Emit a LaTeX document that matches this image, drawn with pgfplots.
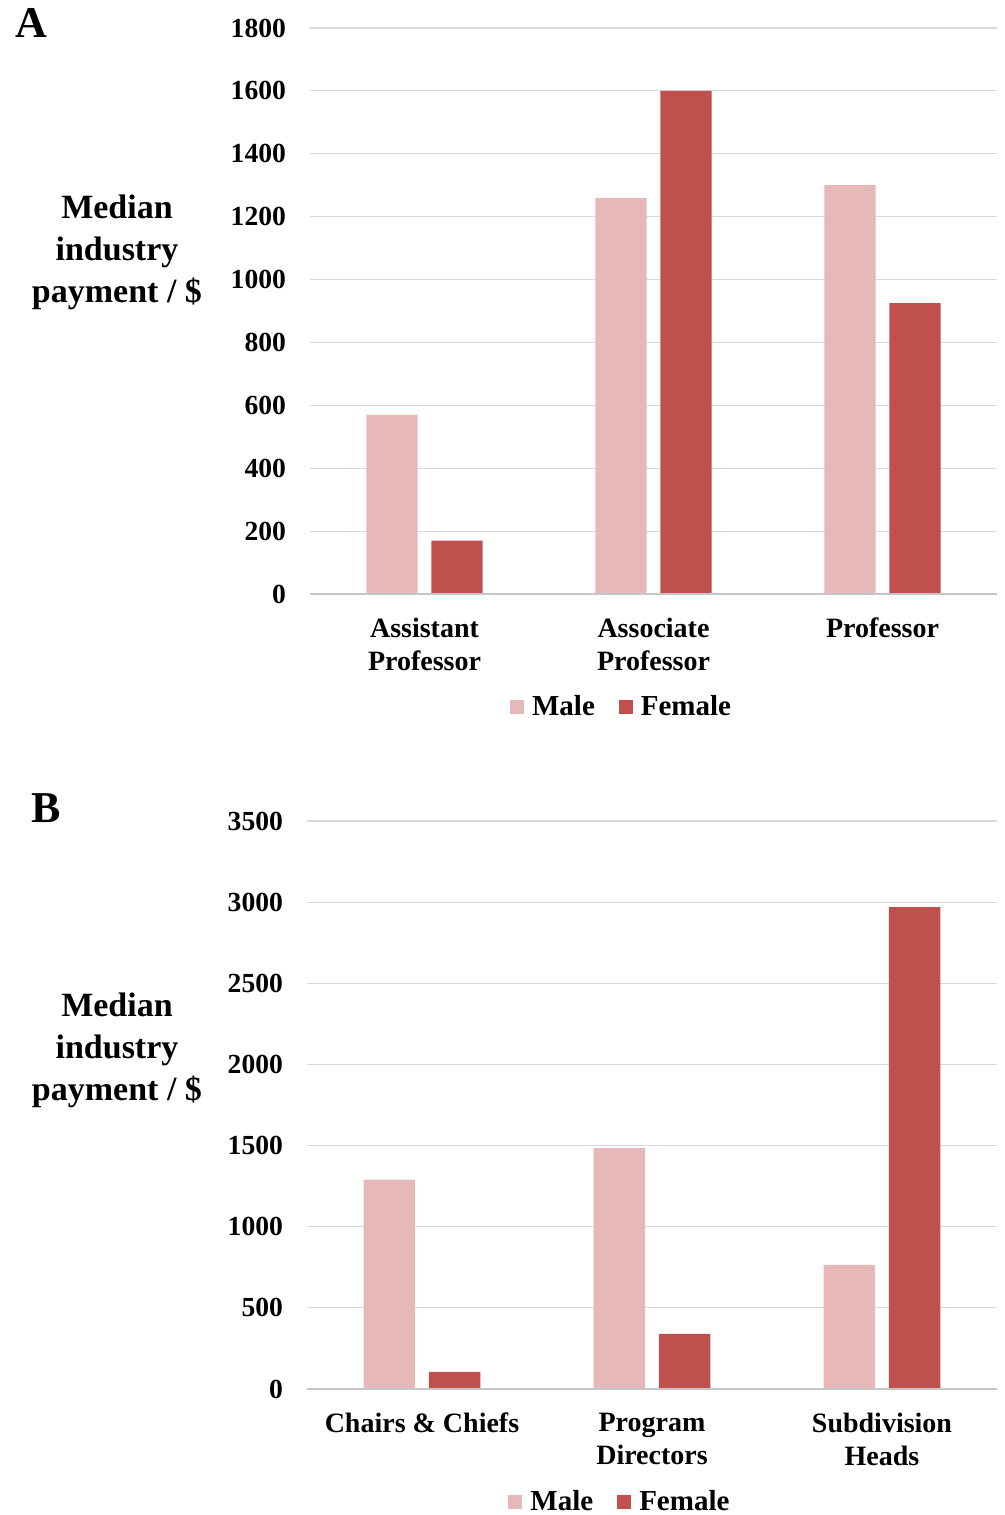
\documentclass[border=0pt]{standalone}
\usepackage{fontspec}
\setmainfont{Liberation Serif}
\usepackage{pgfplots}
\pgfplotsset{compat=1.18}
\definecolor{male}{HTML}{E6B9B8}
\definecolor{female}{HTML}{C0504D}
\definecolor{gridc}{HTML}{D9D9D9}

\pgfplotsset{
  sq legend/.style={legend image code/.code={\fill[##1] (0pt,-3.5pt) rectangle (7pt,3.5pt); \path (0pt,0pt) -- (9pt,0pt);}},
  mystyle/.style={
    scale only axis, xmin=-0.5, xmax=2.5, ymin=0,
    axis line style={draw=none},
    major tick length=0pt,
    ymajorgrids, grid style={color=gridc, line width=0.6pt},
    xtick={0,1,2},
    /pgf/number format/assume math mode=true,
    /pgf/number format/1000 sep={},
    yticklabel style={font=\fontsize{13.8}{16}\selectfont\bfseries, xshift=-8.5pt},
    xticklabel style={font=\fontsize{14}{16.5}\selectfont\bfseries, align=center, yshift=-8.5pt},
    ybar, bar width=0.224,
    legend style={draw=none, legend columns=2, font=\fontsize{14.5}{16}\selectfont\bfseries,
      /tikz/every even column/.append style={column sep=10pt}},
    legend cell align=left,
  }
}

\begin{document}
\begin{tikzpicture}
\useasboundingbox (0,0) rectangle (502.5pt,-757.5pt);

% Panel A
\node[font=\fontsize{22}{24}\selectfont\bfseries] at (15.5pt,-11.5pt) {A};
\node[font=\fontsize{17}{21}\selectfont\bfseries, align=center] at (58.5pt,-126pt) {Median\\industry\\payment / \$};
\begin{axis}[mystyle, at={(155pt,-297pt)}, anchor=south west, width=343.5pt, height=283pt,
  ymax=1800, ytick={0,200,...,1800},
  xticklabels={{Assistant\\Professor},{Associate\\Professor},{Professor}},
  legend style={at={(0.455,-0.2)}, anchor=center}]
\addplot[fill=male, draw=none, bar shift=-0.142, sq legend] coordinates {(0,570) (1,1260) (2,1300)};
\addplot[fill=female, draw=none, bar shift=0.142, sq legend] coordinates {(0,170) (1,1600) (2,925)};
\legend{Male,Female}
\draw[color=gray!45, line width=1pt] (axis cs:-0.5,0) -- (axis cs:2.5,0);
\end{axis}

% Panel B
\node[font=\fontsize{22}{24}\selectfont\bfseries] at (23.25pt,-404pt) {B};
\node[font=\fontsize{17}{21}\selectfont\bfseries, align=center] at (58.5pt,-525pt) {Median\\industry\\payment / \$};
\begin{axis}[mystyle, at={(153.5pt,-694.5pt)}, anchor=south west, width=345pt, height=284pt,
  ymax=3500, ytick={0,500,...,3500},
  xticklabels={{Chairs \& Chiefs},{Program\\Directors},{Subdivision\\Heads}},
  legend style={at={(0.455,-0.199)}, anchor=center}]
\addplot[fill=male, draw=none, bar shift=-0.142, sq legend] coordinates {(0,1290) (1,1485) (2,765)};
\addplot[fill=female, draw=none, bar shift=0.142, sq legend] coordinates {(0,105) (1,340) (2,2970)};
\legend{Male,Female}
\draw[color=gray!45, line width=1pt] (axis cs:-0.5,0) -- (axis cs:2.5,0);
\end{axis}
\end{tikzpicture}
\end{document}
